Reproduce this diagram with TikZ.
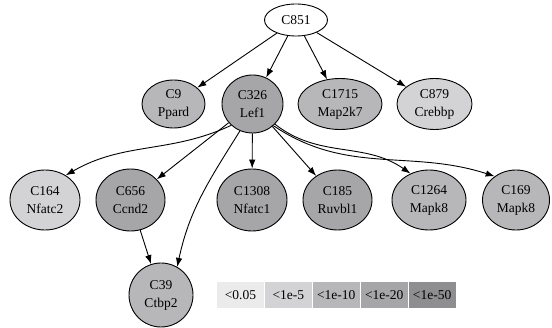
\documentclass[tikz,border=0pt]{standalone}
\usepackage{fontspec}
\setmainfont{Liberation Serif}
\usetikzlibrary{shapes.geometric,arrows.meta,positioning}
\tikzset{>={Latex[length=9pt,width=6.5pt]}}
\definecolor{pa}{HTML}{EBEBEB}
\definecolor{pb}{HTML}{D3D3D5}
\definecolor{pc}{HTML}{B7B7B9}
\definecolor{pd}{HTML}{A6A6A8}
\definecolor{pe}{HTML}{8E8E90}

\begin{document}
\begin{tikzpicture}[x=1pt, y=-1pt, line width=.9pt,
    gene/.style={draw, ellipse, inner sep=0pt, align=center, font=\fontsize{13.5}{18}\selectfont},
    key/.style={inner sep=0pt, minimum width=47pt, minimum height=26pt, font=\fontsize{13.5}{15}\selectfont}]
    \useasboundingbox (0, 0) rectangle (552, 328);
    % top
    \node[gene, minimum width=63pt, minimum height=32pt] (c851) at (296, 20) {C851};
    % second row
    \node[gene, fill=pc, minimum width=63pt, minimum height=48pt] (c9) at (173.5, 104) {C9\\Ppard};
    \node[gene, fill=pd, minimum width=61pt, minimum height=58pt] (c326) at (252.5, 104) {C326\\Lef1};
    \node[gene, fill=pc, minimum width=84pt, minimum height=51pt] (c1715) at (340, 104) {C1715\\Map2k7};
    \node[gene, fill=pb, minimum width=75pt, minimum height=51pt] (c879) at (434.5, 104) {C879\\Crebbp};
    % third row
    \node[gene, fill=pb, minimum width=70pt, minimum height=60pt] (c164) at (45, 200) {C164\\Nfatc2};
    \node[gene, fill=pd, minimum width=69pt, minimum height=62pt] (c656) at (130.5, 200) {C656\\Ccnd2};
    \node[gene, fill=pd, minimum width=70pt, minimum height=62pt] (c1308) at (252, 200) {C1308\\Nfatc1};
    \node[gene, fill=pd, minimum width=69pt, minimum height=60pt] (c185) at (337.5, 200) {C185\\Ruvbl1};
    \node[gene, fill=pc, minimum width=74pt, minimum height=60pt] (c1264) at (429, 200) {C1264\\Mapk8};
    \node[gene, fill=pc, minimum width=67pt, minimum height=60pt] (c169) at (516, 200) {C169\\Mapk8};
    % bottom
    \node[gene, fill=pc, minimum width=64pt, minimum height=64pt] (c39) at (161, 295) {C39\\Ctbp2};

    \draw[->] (c851) -- (c9);
    \draw[->] (c851) -- (c326);
    \draw[->] (c851) -- (c1715);
    \draw[->] (c851) -- (c879);
    \draw[->] (c326.225) to[out=205, in=30] (c164.50);
    \draw[->] (c326) -- (c656);
    \draw[->] (c326.245) to[out=238, in=78] (c39.60);
    \draw[->] (c326) -- (c1308);
    \draw[->] (c326) -- (c185);
    \draw[->] (c326.318) to[out=-38, in=145] (c1264.125);
    \draw[->] (c326.314) to[out=-34, in=162] (c169.132);
    \draw[->] (c656) -- (c39);

    % legend
    \node[key, fill=pa] (k1) at (240.5, 295) {<0.05};
    \node[key, fill=pb, right=0pt of k1] (k2) {<1e-5};
    \node[key, fill=pc, right=0pt of k2] (k3) {<1e-10};
    \node[key, fill=pd, right=0pt of k3] (k4) {<1e-20};
    \node[key, fill=pe, right=0pt of k4] (k5) {<1e-50};
\end{tikzpicture}
\end{document}
